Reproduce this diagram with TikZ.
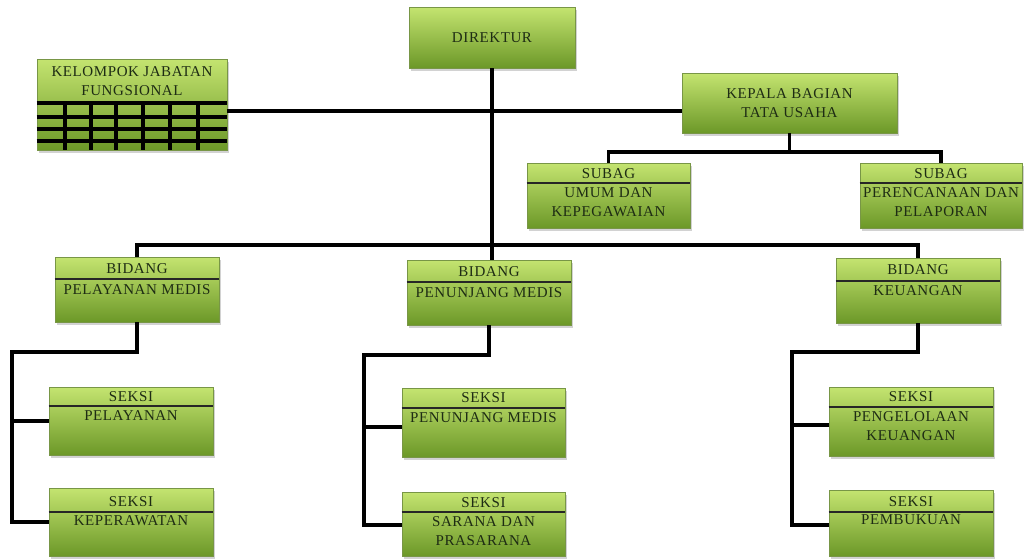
\documentclass[tikz,border=0pt]{standalone}
\usepackage{fontspec}
\setmainfont[LetterSpace=4]{Liberation Serif}
\usetikzlibrary{shadows}
\definecolor{gtop}{RGB}{196,228,112}
\definecolor{gbot}{RGB}{108,152,40}
\definecolor{gborder}{RGB}{120,150,70}
\definecolor{txtc}{RGB}{30,44,20}
\tikzset{
  box/.style={draw=gborder, line width=0.6pt, top color=gtop, bottom color=gbot,
    drop shadow={shadow xshift=2pt, shadow yshift=-2.5pt, opacity=0.35},
    inner sep=0pt},
  lbl/.style={font=\fontsize{15}{19}\selectfont, text=txtc, align=center, inner sep=0pt},
  divider/.style={draw=black!85, line width=1.5pt},
  conn/.style={draw=black, line width=3.2pt},
}
\begin{document}
\begin{tikzpicture}[x=1pt,y=-1pt]
\useasboundingbox[fill=white] (0,0) rectangle (1026,558);

% ---------- boxes ----------
\node[box, minimum width=166pt, minimum height=61pt] (dir) at (492,37.5) {};
\node[box, minimum width=190pt, minimum height=91pt] (kjf) at (132,104.5) {};
\node[box, minimum width=215pt, minimum height=60pt] (kbtu) at (789.5,103) {};
\node[box, minimum width=163pt, minimum height=65pt] (sub1) at (608.5,195.5) {};
\node[box, minimum width=162pt, minimum height=65pt] (sub2) at (941,195.5) {};
\node[box, minimum width=164pt, minimum height=65pt] (bid1) at (137,289.5) {};
\node[box, minimum width=164pt, minimum height=65pt] (bid2) at (489,292.5) {};
\node[box, minimum width=164pt, minimum height=65pt] (bid3) at (918,290.5) {};
\node[box, minimum width=164pt, minimum height=68pt] (s11) at (131,421) {};
\node[box, minimum width=164pt, minimum height=68pt] (s12) at (131,522) {};
\node[box, minimum width=163pt, minimum height=69pt] (s21) at (483.5,422.5) {};
\node[box, minimum width=163pt, minimum height=64pt] (s22) at (483.5,524) {};
\node[box, minimum width=164pt, minimum height=69pt] (s31) at (911,421.5) {};
\node[box, minimum width=164pt, minimum height=66pt] (s32) at (911,523) {};

% ---------- grid of kelompok jabatan ----------
\foreach \yy in {103,117,129,141}
  \draw[conn] (kjf.west |- 0,\yy) -- (kjf.east |- 0,\yy);
\foreach \xx in {65,91,116,143,170,198}
  \draw[conn] (\xx,103) -- (\xx,150);

% ---------- dividers ----------
\draw[divider] (sub1.west |- 0,183) -- (sub1.east |- 0,183);
\draw[divider] (sub2.west |- 0,183) -- (sub2.east |- 0,183);
\draw[divider] (bid1.west |- 0,279) -- (bid1.east |- 0,279);
\draw[divider] (bid2.west |- 0,282) -- (bid2.east |- 0,282);
\draw[divider] (bid3.west |- 0,281) -- (bid3.east |- 0,281);
\draw[divider] (s11.west |- 0,406) -- (s11.east |- 0,406);
\draw[divider] (s12.west |- 0,512) -- (s12.east |- 0,512);
\draw[divider] (s21.west |- 0,408) -- (s21.east |- 0,408);
\draw[divider] (s22.west |- 0,512) -- (s22.east |- 0,512);
\draw[divider] (s31.west |- 0,407) -- (s31.east |- 0,407);
\draw[divider] (s32.west |- 0,512) -- (s32.east |- 0,512);

% ---------- texts ----------
\node[lbl] (tdir) at (492,38) {DIREKTUR};
\node[lbl] (tkjf) at (132,81) {KELOMPOK JABATAN\\FUNGSIONAL};
\node[lbl] (tkbtu) at (789.5,103.5) {KEPALA BAGIAN\\TATA USAHA};
\node[lbl] (hsub1) at (608.5,174) {SUBAG};
\node[lbl] (tsub1) at (608.5,202.5) {UMUM DAN\\KEPEGAWAIAN};
\node[lbl] (hsub2) at (941,174) {SUBAG};
\node[lbl] (tsub2) at (941,202.5) {PERENCANAAN DAN\\PELAPORAN};
\node[lbl] (hbid1) at (137,268.5) {BIDANG};
\node[lbl] (tbid1) at (137,290) {PELAYANAN MEDIS};
\node[lbl] (hbid2) at (489,271.5) {BIDANG};
\node[lbl] (tbid2) at (489,293) {PENUNJANG MEDIS};
\node[lbl] (hbid3) at (918,270) {BIDANG};
\node[lbl] (tbid3) at (918,291) {KEUANGAN};
\node[lbl] (hs11) at (131,396.5) {SEKSI};
\node[lbl] (ts11) at (131,416) {PELAYANAN};
\node[lbl] (hs12) at (131,502) {SEKSI};
\node[lbl] (ts12) at (131,521) {KEPERAWATAN};
\node[lbl] (hs21) at (483.5,398) {SEKSI};
\node[lbl] (ts21) at (483.5,418) {PENUNJANG MEDIS};
\node[lbl] (hs22) at (483.5,502.5) {SEKSI};
\node[lbl] (ts22) at (483.5,531.5) {SARANA DAN\\PRASARANA};
\node[lbl] (hs31) at (911,397) {SEKSI};
\node[lbl] (ts31) at (911,426.5) {PENGELOLAAN\\KEUANGAN};
\node[lbl] (hs32) at (911,502) {SEKSI};
\node[lbl] (ts32) at (911,520) {PEMBUKUAN};

% ---------- connectors ----------
\draw[conn] (dir.south) -- (dir.south |- bid2.north);
\draw[conn] (kjf.east |- 0,111) -- (kbtu.west |- 0,111);
\coordinate (ku) at (kbtu.south |- 0,152);
\draw[conn] (kbtu.south) -- (ku);
\draw[conn] (sub1.north) |- (ku) -| (sub2.north);
\coordinate (busl) at (bid1.north |- 0,245);
\coordinate (busr) at (bid3.north |- 0,245);
\draw[conn] (bid1.north) -- (busl) -- (busr) -- (bid3.north);

\coordinate (b1) at (bid1.south |- 0,352);
\coordinate (b1l) at (12,352);
\draw[conn] (bid1.south) -- (b1) -- (b1l) |- (s12.west);
\draw[conn] (b1l |- s11.west) -- (s11.west);

\coordinate (b2) at (bid2.south |- 0,355);
\coordinate (b2l) at (364,355);
\draw[conn] (bid2.south) -- (b2) -- (b2l) |- (s22.west |- 0,525);
\draw[conn] (b2l |- 0,427) -- (s21.west |- 0,427);

\coordinate (b3) at (bid3.south |- 0,352);
\coordinate (b3l) at (792,352);
\draw[conn] (bid3.south) -- (b3) -- (b3l) |- (s32.west |- 0,525);
\draw[conn] (b3l |- 0,425) -- (s31.west |- 0,425);
\end{tikzpicture}
\end{document}
